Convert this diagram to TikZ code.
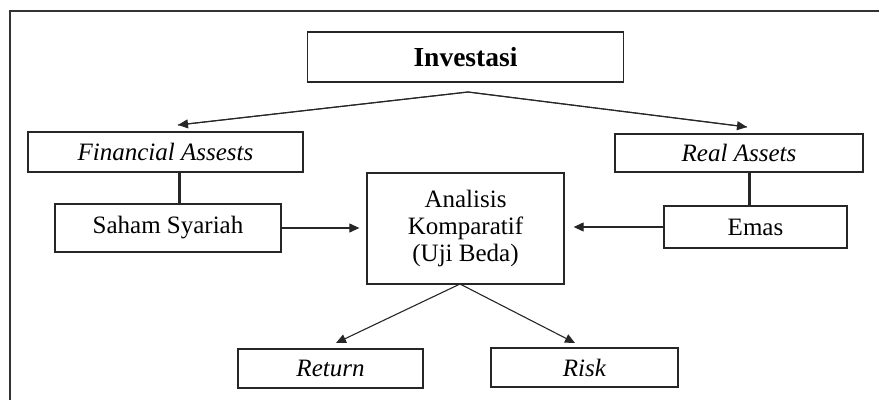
\documentclass[tikz,border=0pt]{standalone}
\usepackage{fontspec}
\setmainfont{Liberation Serif}
\usetikzlibrary{arrows.meta,calc}
\begin{document}
\begin{tikzpicture}[x=1pt,y=-1pt,
  box/.style={draw=black!85,line width=1.3pt,inner sep=0pt,align=center,font=\fontsize{25}{27}\selectfont},
  arr/.style={line width=1.1pt,draw=black!85,-{Triangle[length=10pt,width=9pt]}},
  link/.style={line width=3pt,draw=black!85},
  frame/.style={line width=1.6pt,draw=black!80}]
\useasboundingbox (0,0) rectangle (879,400);
\draw[frame] (10,400) -- (10,11) -- (879,11);
\node[box,minimum width=316pt,minimum height=50pt,font=\fontsize{27.5}{29}\selectfont\bfseries] (inv) at (465.5,57) {Investasi};
\node[box,minimum width=275pt,minimum height=40pt] (fin) at (165.5,152) {\textit{Financial Assests}};
\node[box,minimum width=248pt,minimum height=38pt] (real) at (739,153) {\textit{Real Assets}};
\node[box,minimum width=226pt,minimum height=48pt] (sah) at (168,228) {Saham Syariah};
\node[box,minimum width=197pt,minimum height=111pt] (ana) at (465.5,228.5) {Analisis\\Komparatif\\(Uji Beda)};
\node[box,minimum width=183pt,minimum height=42pt] (emas) at (755.5,227) {Emas};
\node[box,minimum width=185pt,minimum height=39pt] (ret) at (330.5,368.5) {\textit{Return}};
\node[box,minimum width=187pt,minimum height=39pt] (risk) at (584.5,367.5) {\textit{Risk}};
\coordinate (top) at (468,92);
\coordinate (tl) at (178,125);
\coordinate (tr) at (747,127);
\coordinate (bot) at (460,284);
\coordinate (bl) at (336,343);
\coordinate (br) at (575,343);
\coordinate (v1) at (179,0);
\coordinate (v2) at (749,0);
\draw[line width=1.1pt,draw=black!85] (tl) -- (top) -- (tr);
\draw[arr] (top) -- (tl);
\draw[arr] (top) -- (tr);
\draw[link] (v1 |- fin.south) -- (v1 |- sah.north);
\draw[link] (v2 |- real.south) -- (v2 |- emas.north);
\draw[arr,shorten >=7pt] (sah.east) -- (sah.east -| ana.west);
\draw[arr,shorten >=9pt] (emas.west) -- (emas.west -| ana.east);
\draw[arr] (bot) -- (bl);
\draw[arr] (bot) -- (br);
\end{tikzpicture}
\end{document}
